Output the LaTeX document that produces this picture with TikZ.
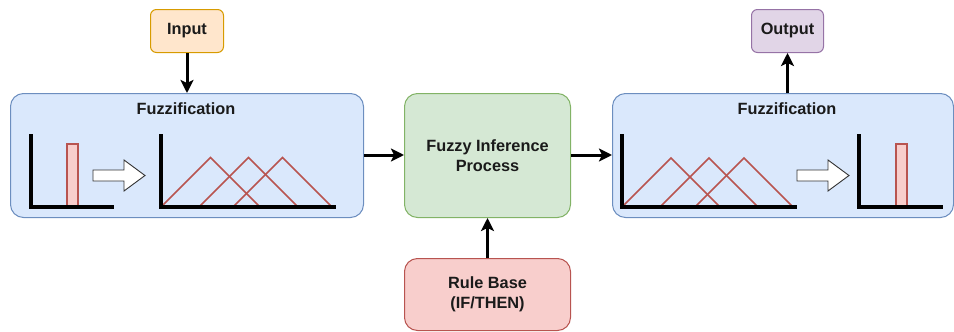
\documentclass[tikz,border=0pt]{standalone}
\usepackage{fontspec}
\setmainfont{Liberation Sans}
\usetikzlibrary{arrows.meta,shapes.arrows}
\definecolor{blueF}{HTML}{DAE8FC}\definecolor{blueS}{HTML}{6C8EBF}
\definecolor{orangeF}{HTML}{FFE6CC}\definecolor{orangeS}{HTML}{D79B00}
\definecolor{purpleF}{HTML}{E1D5E7}\definecolor{purpleS}{HTML}{9673A6}
\definecolor{greenF}{HTML}{D5E8D4}\definecolor{greenS}{HTML}{82B366}
\definecolor{redF}{HTML}{F8CECC}\definecolor{redS}{HTML}{B85450}
\definecolor{txt}{HTML}{1A1A1A}
\tikzset{
  box/.style={draw, rounded corners=13pt, line width=1pt, inner sep=0pt, anchor=north west},
  label/.style={font=\fontsize{16.3}{20}\selectfont\bfseries, text=txt, align=center},
  conn/.style={line width=3pt, -{Stealth[length=13pt,width=13pt,inset=3pt]}},
  axis/.style={line width=3.2pt, line cap=butt},
  memb/.style={draw=redS, line width=1.7pt},
  bar/.style={draw=redS, fill=redF, line width=1.2pt},
  blockarrow/.style={draw=black!80, fill=white, line width=0.9pt}
}
\begin{document}
\begin{tikzpicture}[x=1pt,y=-1pt]
\useasboundingbox (0,0) rectangle (954,332);

% main blocks
\node[box, fill=blueF, draw=blueS, minimum width=353pt, minimum height=124pt] (fuzz) at (10,93) {};
\node[box, fill=greenF, draw=greenS, minimum width=166pt, minimum height=124pt] (inf) at (404,93) {};
\node[box, fill=blueF, draw=blueS, minimum width=341pt, minimum height=124pt] (defuzz) at (612,93) {};
\node[box, fill=redF, draw=redS, minimum width=166pt, minimum height=72pt] (rules) at (404,258) {};
\node[box, rounded corners=6pt, fill=orangeF, draw=orangeS, minimum width=73pt, minimum height=43pt] (in) at (150,9) {};
\node[box, rounded corners=6pt, fill=purpleF, draw=purpleS, minimum width=72pt, minimum height=43pt] (out) at (751,9) {};

% texts
\node[label] at (in.center) {Input};
\node[label] at (out.center) {Output};
\node[label] at (186,109) {Fuzzification};
\node[label] at (787,109) {Fuzzification};
\node[label] at (inf.center) {Fuzzy Inference\\Process};
\node[label] at (rules.center) {Rule Base\\(IF/THEN)};

% connectors
\draw[conn] (in.south) -- (in.south |- fuzz.north);
\draw[conn] (fuzz.east |- 0,155) -- (inf.west |- 0,155);
\draw[conn] (inf.east |- 0,155) -- (defuzz.west |- 0,155);
\draw[conn] (rules.north) -- (inf.south);
\draw[conn] (out.south |- defuzz.north) -- (out.south);

% left block: crisp input -> fuzzy sets
\draw[bar] (67,144) rectangle (78,207);
\draw[axis] (31,134) -- (31,207) -- (114,207);
\draw[blockarrow] (93,170) -- (124,170) -- (124,160) -- (145,175.5) -- (124,191) -- (124,181) -- (93,181) -- cycle;
\draw[memb] (161,207) -- (210.5,157.5) -- (260,207);
\draw[memb] (199,207) -- (248.5,157.5) -- (298,207);
\draw[memb] (233,207) -- (282.5,157.5) -- (332,207);
\draw[axis] (161,134) -- (161,207) -- (336,207);

% right block: fuzzy sets -> crisp output
\draw[memb] (622,207) -- (671,158) -- (720,207);
\draw[memb] (660,207) -- (709,158) -- (758,207);
\draw[memb] (695,207) -- (744,158) -- (793,207);
\draw[axis] (622,134) -- (622,207) -- (797,207);
\draw[blockarrow] (797,170) -- (828,170) -- (828,160) -- (849,175.5) -- (828,191) -- (828,181) -- (797,181) -- cycle;
\draw[bar] (896,144) rectangle (907,207);
\draw[axis] (859,134) -- (859,207) -- (943,207);
\end{tikzpicture}
\end{document}
